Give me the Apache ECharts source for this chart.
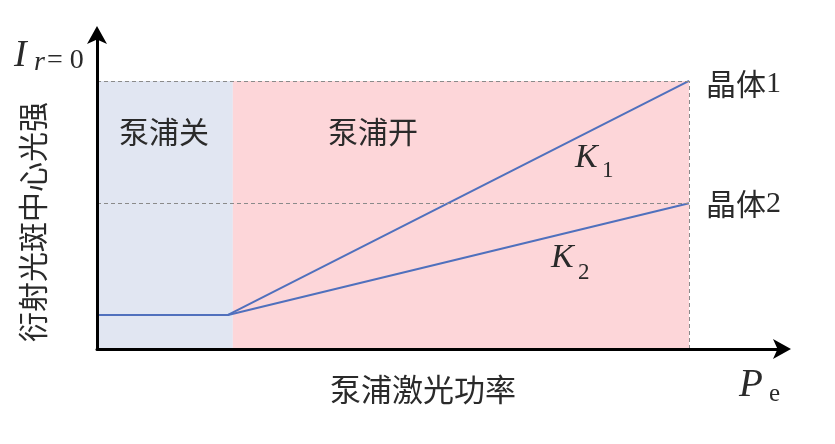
<!DOCTYPE html>
<html>
<head>
<meta charset="utf-8">
<script src="https://cdn.jsdelivr.net/npm/echarts@6/dist/echarts.min.js"></script>
<style>
html,body{margin:0;padding:0;background:#fff;}
#c{width:835px;height:444px;}
</style>
</head>
<body>
<div id="c"></div>
<script>
// ---- data (schematic units, axes run 0..100) ----
const pumpPower = [0, 19.1, 86.3];          // x of line vertices
const intensityCrystal1 = [10.8, 10.8, 85.1];
const intensityCrystal2 = [10.8, 10.8, 46.3];
const pumpOnAt = 19.8;                      // boundary between pump off / on
const regionNames = ['泵浦关', '泵浦开'];
const crystalNames = ['晶体1', '晶体2'];
const slopeNames = ['K', 'K'];
const slopeSubs = ['1', '2'];
const xAxisTitle = '泵浦激光功率';
const yAxisTitle = '衍射光斑中心光强';

const xEnd = pumpPower[pumpPower.length - 1];
const yTop = intensityCrystal1[intensityCrystal1.length - 1];
const yMid = intensityCrystal2[intensityCrystal2.length - 1];

const CJK = '"Noto Sans CJK SC", sans-serif';
const SERIF = '"Liberation Serif", "DejaVu Serif", serif';
const TXT = '#2a2a2a';

function toPairs(xs, ys) { return xs.map((x, i) => [x, ys[i]]); }

function txt(x, y, text, size, opts) {
  return {
    type: 'text', x: x, y: y, z: 20,
    style: Object.assign({
      text: text, fontSize: size, fontFamily: CJK, fill: TXT,
      align: 'left', verticalAlign: 'middle'
    }, opts || {})
  };
}

const chart = echarts.init(document.getElementById('c'), null, {renderer: 'canvas'});

const axisCommon = {
  type: 'value', min: 0, max: 100, z: 10,
  axisLine: {
    show: true, symbol: ['none', 'arrow'], symbolSize: [15, 18], symbolOffset: [0, 8],
    lineStyle: {color: '#000', width: 3}
  },
  axisTick: {show: false}, axisLabel: {show: false}, splitLine: {show: false}
};

chart.setOption({
  animation: false,
  backgroundColor: '#fff',
  grid: {left: 97, top: 34, width: 686, height: 315},
  xAxis: axisCommon,
  yAxis: axisCommon,
  series: [
    {
      name: crystalNames[0], type: 'line', symbol: 'none', z: 3,
      lineStyle: {color: '#5070bd', width: 2},
      data: toPairs(pumpPower, intensityCrystal1),
      markArea: {
        silent: true,
        data: [
          [{xAxis: 0, yAxis: 0, itemStyle: {color: '#e1e6f2'}}, {xAxis: pumpOnAt, yAxis: yTop}],
          [{xAxis: pumpOnAt, yAxis: 0, itemStyle: {color: '#fdd6d9'}}, {xAxis: xEnd, yAxis: yTop}]
        ]
      },
      markLine: {
        silent: true, symbol: 'none', label: {show: false},
        lineStyle: {color: '#8a8a8a', width: 1, type: [4, 3]},
        data: [
          [{coord: [0, yTop]}, {coord: [xEnd, yTop]}],
          [{coord: [0, yMid]}, {coord: [xEnd, yMid]}],
          [{coord: [xEnd, 0]}, {coord: [xEnd, yTop]}]
        ]
      }
    },
    {
      name: crystalNames[1], type: 'line', symbol: 'none', z: 3,
      lineStyle: {color: '#5070bd', width: 2},
      data: toPairs(pumpPower, intensityCrystal2)
    }
  ],
  graphic: [
    // y axis symbol I_{r=0}
    txt(14, 56, 'I', 38, {fontFamily: SERIF, fontStyle: 'italic'}),
    txt(34, 63, 'r', 28, {fontFamily: SERIF, fontStyle: 'italic'}),
    txt(47, 61, '= 0', 28, {fontFamily: SERIF}),
    // y axis title (vertical)
    {
      type: 'text', x: 33, y: 222, rotation: Math.PI / 2, z: 20,
      style: {text: yAxisTitle, fontSize: 30, fontFamily: CJK, fill: TXT,
              align: 'center', verticalAlign: 'middle'}
    },
    // region labels
    txt(164, 132, regionNames[0], 30, {align: 'center'}),
    txt(373, 132, regionNames[1], 30, {align: 'center'}),
    // slopes
    txt(575, 158, slopeNames[0], 34, {fontFamily: SERIF, fontStyle: 'italic'}),
    txt(602, 171, slopeSubs[0], 23, {fontFamily: SERIF}),
    txt(551, 258, slopeNames[1], 34, {fontFamily: SERIF, fontStyle: 'italic'}),
    txt(578, 273, slopeSubs[1], 23, {fontFamily: SERIF}),
    // crystal labels
    {
      type: 'text', x: 706, y: 84, z: 20,
      style: {text: '{c|' + crystalNames[0].slice(0, 2) + '}{n|' + crystalNames[0].slice(2) + '}',
              align: 'left', verticalAlign: 'middle',
              rich: {c: {fontSize: 30, fontFamily: CJK, fill: TXT, lineHeight: 36},
                     n: {fontSize: 30, fontFamily: SERIF, fill: TXT, lineHeight: 36}}}
    },
    {
      type: 'text', x: 706, y: 204, z: 20,
      style: {text: '{c|' + crystalNames[1].slice(0, 2) + '}{n|' + crystalNames[1].slice(2) + '}',
              align: 'left', verticalAlign: 'middle',
              rich: {c: {fontSize: 30, fontFamily: CJK, fill: TXT, lineHeight: 36},
                     n: {fontSize: 30, fontFamily: SERIF, fill: TXT, lineHeight: 36}}}
    },
    // x axis title and symbol
    txt(423, 389, xAxisTitle, 31, {align: 'center'}),
    txt(739, 386, 'P', 39, {fontFamily: SERIF, fontStyle: 'italic'}),
    txt(769, 394, 'e', 25, {fontFamily: SERIF})
  ]
});
</script>
</body>
</html>
